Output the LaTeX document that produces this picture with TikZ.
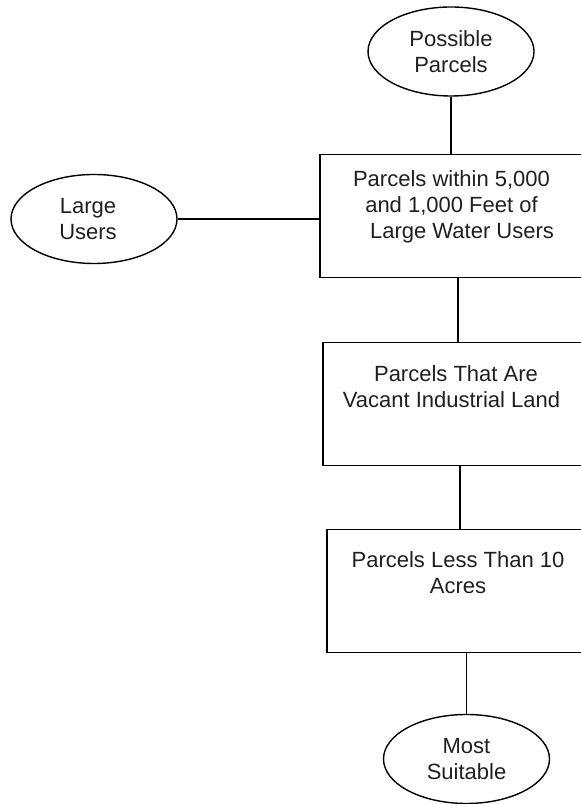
\documentclass[tikz,border=0pt]{standalone}
\usepackage{fontspec}
\setmainfont{Liberation Sans}
\usetikzlibrary{shapes.geometric,calc}
\begin{document}
\begin{tikzpicture}[x=1pt,y=1pt,
  every node/.style={font=\fontsize{22}{26}\selectfont, text=black!88},
  oval/.style={draw, ellipse, line width=1.4pt, inner sep=0pt, align=center,
               minimum width=166pt, minimum height=89pt},
  stage/.style={draw, rectangle, line width=1.4pt, inner sep=0pt, minimum height=123pt},
  caption/.style={anchor=north, align=center, inner sep=0pt},
  link/.style={line width=1.4pt}]
\clip (0,0) rectangle (581,804);

% terminal ovals
\node[oval] (pp) at (451,752.5) {Possible\\Parcels};
\node[oval] (lu) at (94,585) {Large\hspace*{12pt}\\Users\hspace*{12pt}};
\node[oval] (ms) at (466.5,45) {Most\\Suitable};

% screening stages (they run past the right margin)
\node[stage, minimum width=280pt] (b1) at (460,588) {};
\node[stage, minimum width=277pt] (b2) at (461.5,400) {};
\node[stage, minimum width=273pt] (b3) at (463.5,213) {};

\node[caption] (b1t) at ($(b1.north)+(-8.5,-17)$)
  {Parcels within 5,000\\and 1,000 Feet of\\\hspace*{21pt}Large Water Users};
\node[caption] (b2t) at ($(b2.north)+(-10,-24)$)
  {\hspace*{9pt}Parcels That Are\\Vacant Industrial Land};
\node[caption] (b3t) at ($(b3.north)+(-5.5,-23)$)
  {Parcels Less Than 10\\Acres};

% connectors
\coordinate (x12) at (458,0);
\coordinate (x23) at (460,0);
\draw[link] (pp.south) -- (pp.south |- b1.north);
\draw[link] (lu.east) -- (lu.east -| b1.west);
\draw[link] (b1.south -| x12) -- (b2.north -| x12);
\draw[link] (b2.south -| x23) -- (b3.north -| x23);
\draw[link] (ms.north |- b3.south) -- (ms.north);
\end{tikzpicture}
\end{document}
